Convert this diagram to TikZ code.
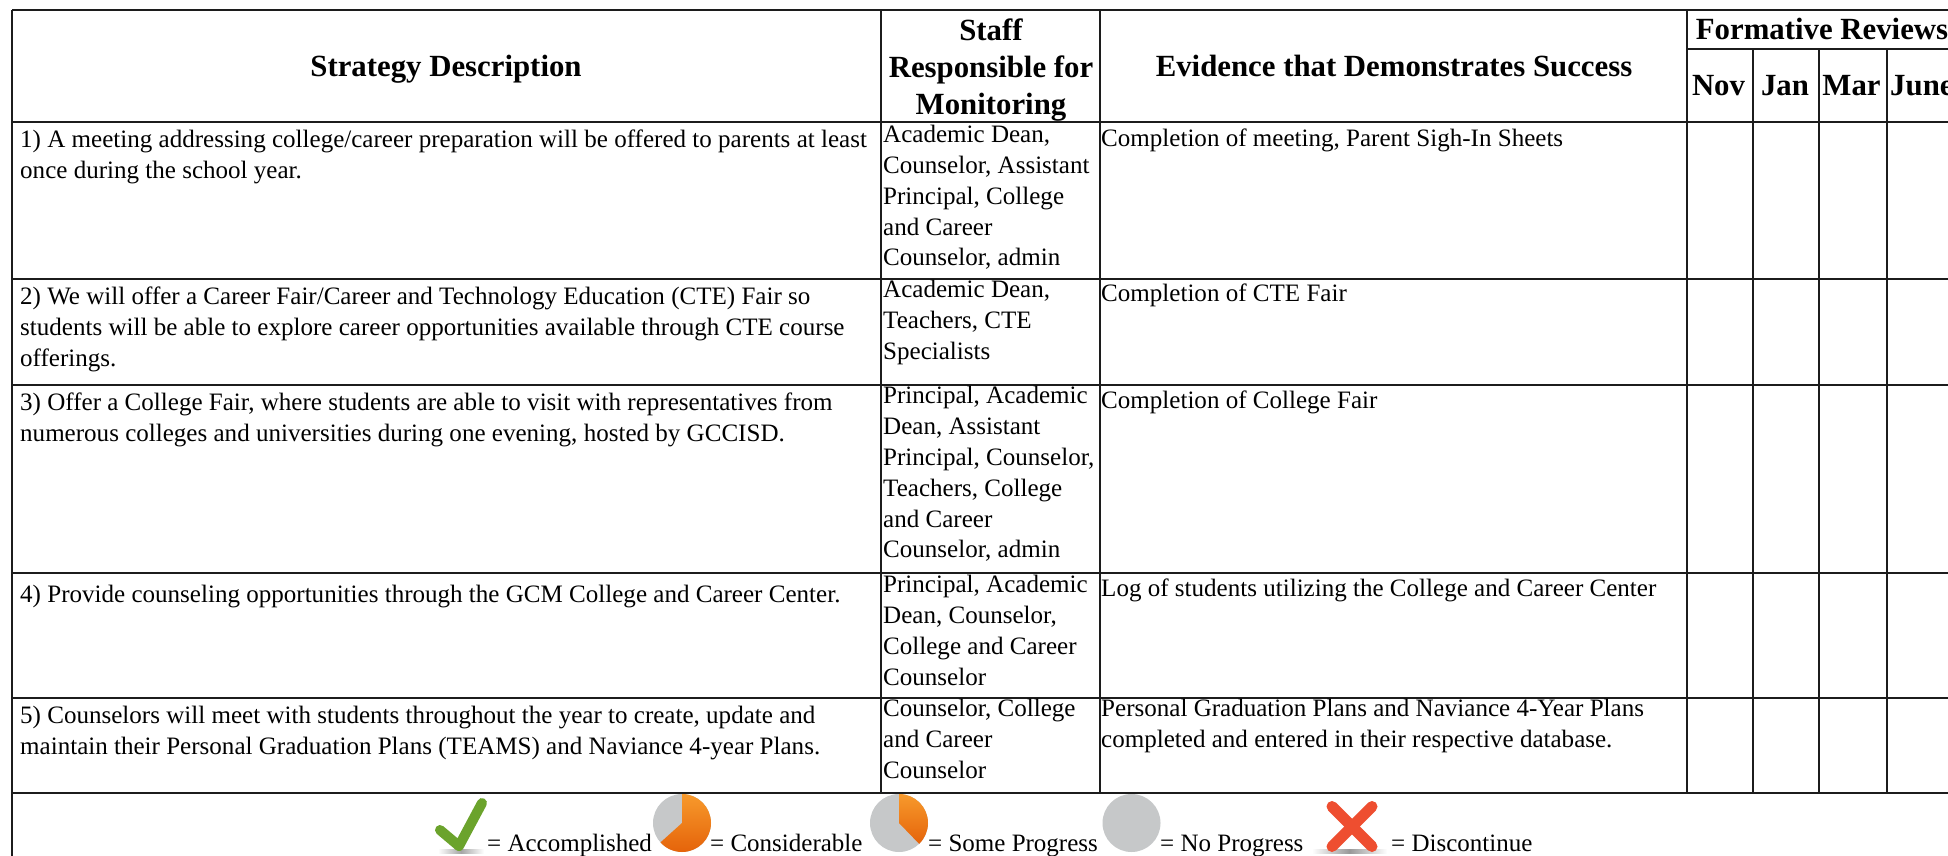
\documentclass[tikz,border=0pt]{standalone}
\usepackage{fontspec}
\setmainfont{Liberation Serif}
\definecolor{rule}{HTML}{1C1C1C}
\definecolor{pgray}{HTML}{C6C8C9}
\definecolor{otop}{HTML}{F79A2C}
\definecolor{obot}{HTML}{E5630A}
\definecolor{checkgreen}{HTML}{6BA32C}
\definecolor{crossred}{HTML}{EE4E30}
\tikzset{
  grid/.style={draw=rule,line width=2pt},
  body/.style={inner sep=0pt,anchor=north west,align=left,font=\fontsize{25.05}{30.8}\selectfont,execute at begin node=\strut},
  head/.style={inner sep=0pt,anchor=base,font=\fontsize{30.8}{37}\selectfont\bfseries},
  stack/.style={inner sep=0pt,anchor=north,align=center,font=\fontsize{30.8}{37}\selectfont\bfseries,execute at begin node=\strut},
  legend/.style={inner sep=0pt,anchor=base west,font=\fontsize{25}{30}\selectfont},
  pieslice/.style={top color=otop,bottom color=obot,draw=none},
  piebase/.style={fill=pgray,draw=none},
}
\begin{document}
\begin{tikzpicture}[x=1pt,y=-1pt]
\useasboundingbox (0,0) rectangle (1948,856);
\clip (0,0) rectangle (1948,856);
\fill[white] (0,0) rectangle (1948,856);
% table rules
\draw[grid] (12,10.5) -- (1948,10.5);
\draw[grid] (1687,49) -- (1948,49);
\foreach \yy in {122,279,385,572.5,698,792.7} \draw[grid] (12,\yy) -- (1948,\yy);
\draw[grid] (12,10) -- (12,856);
\foreach \xx in {881,1100,1687} \draw[grid] (\xx,10) -- (\xx,792.7);
\foreach \xx in {1753,1819,1887} \draw[grid] (\xx,49) -- (\xx,792.7);
% header
\node[head] (hstrategy) at (446,77) {Strategy Description};
\node[stack] (hstaff) at (991,18.4) {Staff\\Responsible for\\Monitoring};
\node[head] (hevidence) at (1394,77) {Evidence that Demonstrates Success};
\node[head] (hformative) at (1822,40) {Formative Reviews};
\node[head] (hnov) at (1718.5,96) {Nov};
\node[head] (hjan) at (1785,96) {Jan};
\node[head] (hmar) at (1851.5,96) {Mar};
\node[head,anchor=base west] (hjune) at (1890,96) {June};
% column 1
\node[body] (s1) at (20,130) {1) A meeting addressing college/career preparation will be offered to parents at least\\once during the school year.};
\node[body] (s2) at (20,286.7) {2) We will offer a Career Fair/Career and Technology Education (CTE) Fair so\\students will be able to explore career opportunities available through CTE course\\offerings.};
\node[body] (s3) at (20,392.4) {3) Offer a College Fair, where students are able to visit with representatives from\\numerous colleges and universities during one evening, hosted by GCCISD.};
\node[body] (s4) at (20,581) {4) Provide counseling opportunities through the GCM College and Career Center.};
\node[body] (s5) at (20,706) {5) Counselors will meet with students throughout the year to create, update and\\maintain their Personal Graduation Plans (TEAMS) and Naviance 4-year Plans.};
% column 2
\node[body] (m1) at (883,125.1) {Academic Dean,\\Counselor, Assistant\\Principal, College\\and Career\\Counselor, admin};
\node[body] (m2) at (883,280.1) {Academic Dean,\\Teachers, CTE\\Specialists};
\node[body] (m3) at (883,386.4) {Principal, Academic\\Dean, Assistant\\Principal, Counselor,\\Teachers, College\\and Career\\Counselor, admin};
\node[body] (m4) at (883,575.1) {Principal, Academic\\Dean, Counselor,\\College and Career\\Counselor};
\node[body] (m5) at (883,699.4) {Counselor, College\\and Career\\Counselor};
% column 3
\node[body] (e1) at (1101,125.1) {Completion of meeting, Parent Sigh-In Sheets};
\node[body] (e2) at (1101,280.1) {Completion of CTE Fair};
\node[body] (e3) at (1101,386.4) {Completion of College Fair};
\node[body] (e4) at (1101,575.1) {Log of students utilizing the College and Career Center};
\node[body] (e5) at (1101,699.4) {Personal Graduation Plans and Naviance 4-Year Plans\\completed and entered in their respective database.};
% legend icons
\shade[left color=white,right color=white,middle color=black!35] (438,849.5) rectangle (484,853);
\draw[line width=10pt,line cap=round,line join=round,draw=checkgreen] (440,830) -- (459,846) -- (482,803);
\begin{scope}[shift={(682,823)},y=1pt]
  \fill[piebase] (0,0) circle (29);
  \path[pieslice] (0,0) -- (90:29) arc (90:-138:29) -- cycle;
\end{scope}
\begin{scope}[shift={(899,823)},y=1pt]
  \fill[piebase] (0,0) circle (29);
  \path[pieslice] (0,0) -- (90:29) arc (90:-46:29) -- cycle;
\end{scope}
\begin{scope}[shift={(1131.5,823)},y=1pt]
  \fill[piebase] (0,0) circle (29);
\end{scope}
\shade[left color=white,right color=white,middle color=black!40] (1312,849.5) rectangle (1387,853);
\draw[line width=11pt,line cap=round,draw=crossred] (1332,806.5) -- (1372,846.5);
\draw[line width=11pt,line cap=round,draw=crossred] (1372,806.5) -- (1332,846.5);
% legend text
\node[legend] (l1) at (487,851) {= Accomplished};
\node[legend] (l2) at (710,851) {= Considerable};
\node[legend] (l3) at (928,851) {= Some Progress};
\node[legend] (l4) at (1160,851) {= No Progress};
\node[legend] (l5) at (1391,851) {= Discontinue};
\end{tikzpicture}
\end{document}
